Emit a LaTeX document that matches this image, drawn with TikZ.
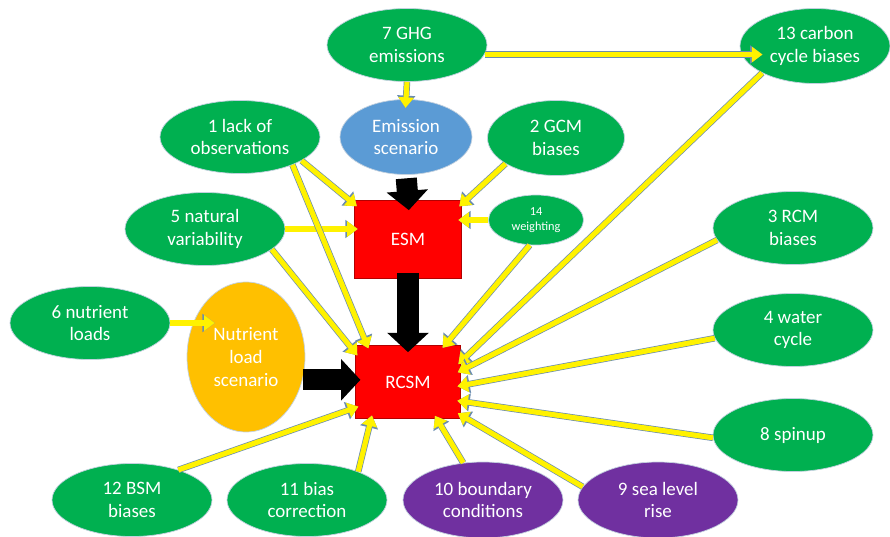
\documentclass[tikz,border=0pt]{standalone}
\usepackage{fontspec}
\setmainfont{Carlito}
\usetikzlibrary{shapes.geometric, arrows.meta}
\definecolor{factorgreen}{HTML}{00B050}
\definecolor{scenblue}{HTML}{5B9BD5}
\definecolor{scenorange}{HTML}{FFC000}
\definecolor{seapurple}{HTML}{7030A0}
\definecolor{edgeblue}{HTML}{6A8CAF}

\begin{document}
\begin{tikzpicture}[x=0.02cm, y=-0.02cm,
  factor/.style={ellipse, fill=factorgreen, draw=edgeblue!40, line width=0.4pt, text=white,
    minimum width=3.2cm, minimum height=1.46cm, inner sep=0pt, align=center,
    font=\fontsize{10.8}{13}\selectfont},
  model/.style={rectangle, fill=red, draw=red!70!black, line width=0.4pt, text=white,
    inner sep=0pt, font=\fontsize{10.8}{13}\selectfont},
  feed/.style={line width=2.9pt, yellow, shorten >=-2pt,
    -{Triangle[width=8.5pt,length=6pt]},
    preaction={draw=edgeblue, line width=3.7pt, -{Triangle[width=10pt,length=7pt]}}},
  bigarrow/.style={line width=12pt, black, -{Triangle[width=23pt,length=11pt]}}]
  \useasboundingbox (0,0) rectangle (890,537);
  % scenarios and models
  \node[factor, fill=scenblue, minimum width=2.64cm, minimum height=1.5cm] (emis) at (406,137) {Emission\\scenario};
  \node[factor, fill=scenorange, minimum width=2.36cm, minimum height=3cm] (nls) at (246,357) {Nutrient\\load\\scenario};
  \node[model, minimum width=2.14cm, minimum height=1.56cm] (esm) at (408,239) {ESM};
  \node[model, minimum width=2.1cm, minimum height=1.46cm] (rcsm) at (408,382) {RCSM};
  % uncertainty sources
  \node[factor] (ghg) at (407,45) {7 GHG\\emissions};
  \node[factor, minimum width=3cm, minimum height=1.5cm] (carbon) at (815,46) {13 carbon\\cycle biases};
  \node[factor] (obs) at (240,137) {1 lack of\\observations};
  \node[factor, minimum width=2.74cm, minimum height=1.5cm] (gcm) at (556,138) {2 GCM\\biases};
  \node[factor, minimum width=1.9cm, minimum height=1cm, font=\fontsize{7}{8.5}\selectfont] (wgt) at (536,220) {14\\weighting};
  \node[factor] (nat) at (205,229) {5 natural\\variability};
  \node[factor] (nut) at (90,323) {6 nutrient\\loads};
  \node[factor] (rcm) at (793,228) {3 RCM\\biases};
  \node[factor] (water) at (793,330) {4 water\\cycle};
  \node[factor] (spin) at (793,435) {8 spinup};
  \node[factor, fill=seapurple, minimum height=1.52cm] (sea) at (658,500) {9 sea level\\rise};
  \node[factor, fill=seapurple, minimum height=1.52cm] (bound) at (483,500) {10 boundary\\conditions};
  \node[factor] (bcor) at (307,500) {11 bias\\correction};
  \node[factor] (bsm) at (132,500) {12 BSM\\biases};
  % model chain
  \draw[bigarrow, shorten <=2pt, shorten >=-6pt] (emis.south) -- (esm.north);
  \draw[bigarrow, shorten <=-3pt, shorten >=-4pt] (esm.south) -- (rcsm.north);
  \draw[bigarrow, shorten >=-3pt] (nls.-22) -- (nls.-22 -| rcsm.west);
  % emissions
  \draw[feed, shorten >=-5pt] (ghg.south) -- (emis.north);
  \draw[feed, shorten >=-13pt] (ghg.-7) -- (ghg.-7 -| carbon.west);
  \draw[feed, shorten >=-16pt] (nut.east) -- (nut.east -| nls.west);
  % into ESM
  \draw[feed] (obs.-21) -- (esm.147);
  \draw[feed] (nat.east) -- (nat.east -| esm.west);
  \draw[feed] (gcm.-153) -- (esm.33);
  \draw[feed] (wgt.west) -- (wgt.west -| esm.east);
  % into RCSM
  \draw[feed] (obs.-28) -- (rcsm.138);
  \draw[feed] (nat.-17) -- (rcsm.151);
  \draw[feed] (wgt.-104) -- (rcsm.45);
  \draw[feed] (carbon.-153) -- (rcsm.21);
  \draw[feed] (rcm.189) -- (rcsm.12);
  \draw[feed] (water.186) -- (rcsm.-4);
  \draw[feed] (spin.182) -- (rcsm.-20);
  \draw[feed] (sea.170) -- (rcsm.-32);
  \draw[feed] (bound.118) -- (rcsm.-52);
  \draw[feed] (bcor.29) -- (rcsm.-135);
  \draw[feed] (bsm.33) -- (rcsm.-154);
\end{tikzpicture}
\end{document}
